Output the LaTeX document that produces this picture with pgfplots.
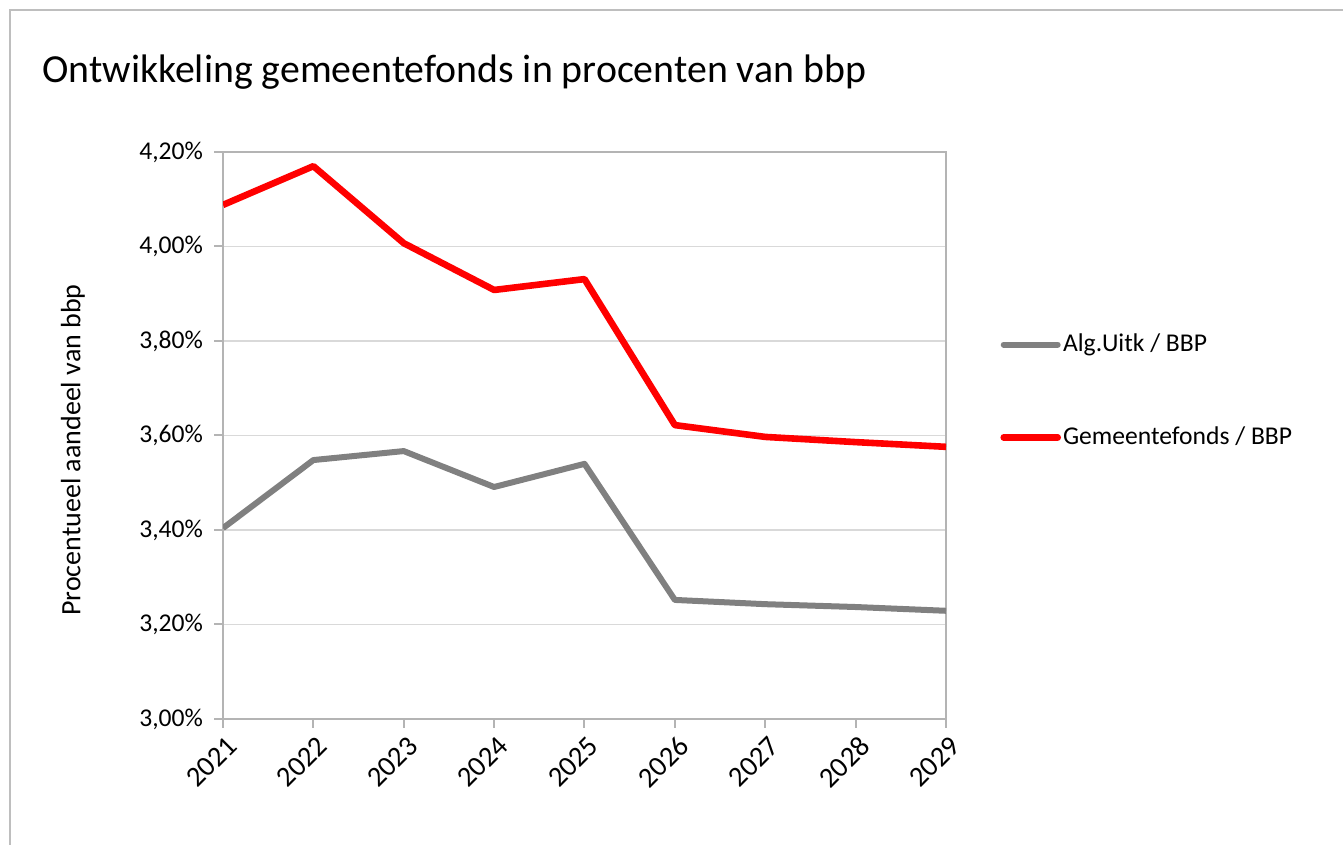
\documentclass[border=0pt]{standalone}
\usepackage{pgfplots}
\pgfplotsset{compat=1.18}
\usepackage{fontspec}
\setmainfont{Carlito}
\definecolor{axgray}{RGB}{180,180,180}
\definecolor{gridgray}{RGB}{217,217,217}
\definecolor{linegray}{RGB}{128,128,128}
\definecolor{framegray}{RGB}{190,190,190}
\begin{document}
\begin{tikzpicture}
\useasboundingbox (0,0) rectangle (671.5pt,422.5pt);
\draw[framegray, line width=1pt] (5pt,-5pt) -- (5pt,417.5pt) -- (680pt,417.5pt);
\node[anchor=west, font=\fontsize{19.9}{23}\selectfont, inner sep=0pt] at (21pt,386.5pt) {Ontwikkeling gemeentefonds in procenten van bbp};
\begin{axis}[
  at={(111.5pt,63pt)}, anchor=south west,
  scale only axis, width=361.5pt, height=283.5pt,
  xmin=2021, xmax=2029, ymin=3.0, ymax=4.2,
  xtick={2021,...,2029},
  xticklabels={2021,2022,2023,2024,2025,2026,2027,2028,2029},
  ytick={3.0,3.2,3.4,3.6,3.8,4.0,4.2},
  yticklabels={{3,00\%},{3,20\%},{3,40\%},{3,60\%},{3,80\%},{4,00\%},{4,20\%}},
  ymajorgrids, major grid style={gridgray, line width=0.9pt},
  axis line style={axgray, line width=1pt},
  tick style={axgray, line width=1pt},
  major tick length=4.5pt,
  tick align=outside,
  xtick pos=bottom, ytick pos=left,
  tick label style={font=\fontsize{12.8}{15}\selectfont, black},
  xticklabel style={font=\fontsize{14.3}{16}\selectfont, rotate=45, anchor=east, xshift=2pt, yshift=-8pt},
  yticklabel style={xshift=-2pt},
  ylabel={Procentueel aandeel van bbp},
  ylabel style={font=\fontsize{14}{16}\selectfont, at={(axis description cs:-0.2075,0.4744)}, anchor=center, rotate=0},
  legend style={at={(1.0747,0.5785)}, anchor=west, draw=none, fill=none, inner sep=0pt,
    font=\fontsize{12.8}{15}\selectfont, row sep=36pt,
    nodes={inner xsep=1pt, inner ysep=0pt}},
  legend cell align=left,
  legend image code/.code={\draw[#1, line cap=round] (0pt,0pt) -- (27pt,0pt);},
]
\addplot[linegray, line width=3pt, line join=round] coordinates {
(2021,3.404) (2022,3.548) (2023,3.567) (2024,3.491) (2025,3.540)
(2026,3.252) (2027,3.243) (2028,3.237) (2029,3.229)};
\addlegendentry{Alg.Uitk / BBP}
\addplot[red, line width=3.3pt, line join=round] coordinates {
(2021,4.088) (2022,4.170) (2023,4.007) (2024,3.908) (2025,3.931)
(2026,3.622) (2027,3.597) (2028,3.586) (2029,3.576)};
\addlegendentry{Gemeentefonds / BBP}
\end{axis}
\end{tikzpicture}
\end{document}
